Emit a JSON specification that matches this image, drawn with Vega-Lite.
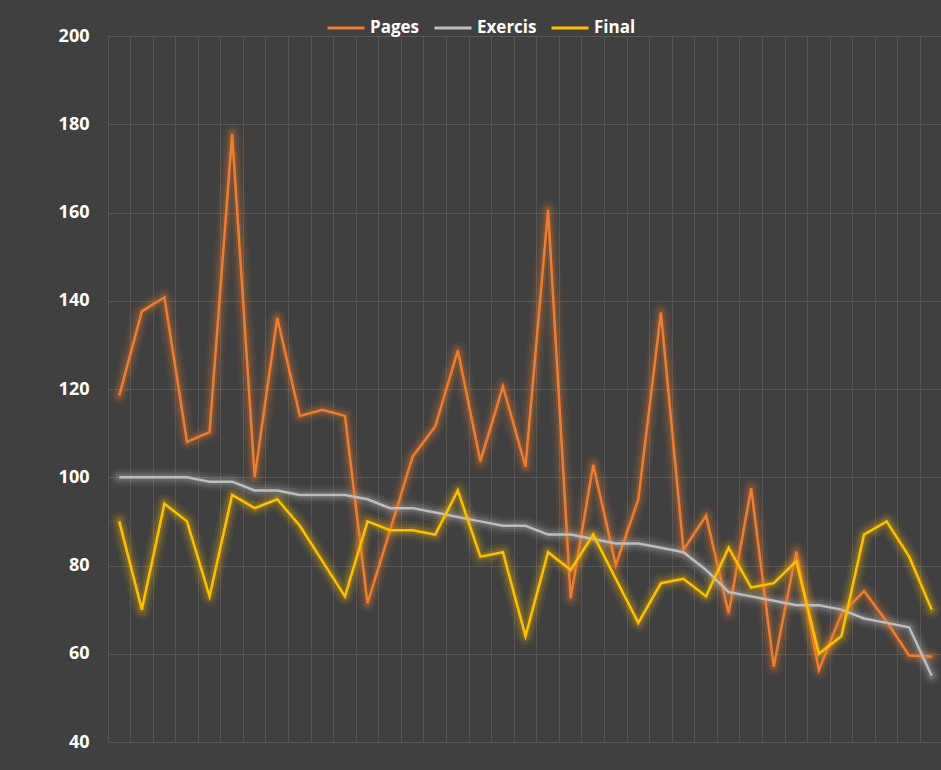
{
  "$schema": "https://vega.github.io/schema/vega-lite/v6.json",
  "width": 835,
  "height": 706,
  "autosize": {"type": "none"},
  "padding": {"left": 108, "top": 36, "right": 0, "bottom": 28},
  "background": "#404040",
  "config": {"view": {"stroke": null}, "font": "Open Sans"},
  "data": {
    "values": [
      {"point": 1, "series": "Pages", "value": 118.5},
      {"point": 2, "series": "Pages", "value": 137.6},
      {"point": 3, "series": "Pages", "value": 140.8},
      {"point": 4, "series": "Pages", "value": 108},
      {"point": 5, "series": "Pages", "value": 110.2},
      {"point": 6, "series": "Pages", "value": 177.8},
      {"point": 7, "series": "Pages", "value": 100},
      {"point": 8, "series": "Pages", "value": 136.1},
      {"point": 9, "series": "Pages", "value": 113.9},
      {"point": 10, "series": "Pages", "value": 115.3},
      {"point": 11, "series": "Pages", "value": 113.9},
      {"point": 12, "series": "Pages", "value": 71.4},
      {"point": 13, "series": "Pages", "value": 88},
      {"point": 14, "series": "Pages", "value": 104.7},
      {"point": 15, "series": "Pages", "value": 111.5},
      {"point": 16, "series": "Pages", "value": 128.7},
      {"point": 17, "series": "Pages", "value": 103.6},
      {"point": 18, "series": "Pages", "value": 120.6},
      {"point": 19, "series": "Pages", "value": 102.4},
      {"point": 20, "series": "Pages", "value": 160.6},
      {"point": 21, "series": "Pages", "value": 72.6},
      {"point": 22, "series": "Pages", "value": 102.8},
      {"point": 23, "series": "Pages", "value": 80.1},
      {"point": 24, "series": "Pages", "value": 95},
      {"point": 25, "series": "Pages", "value": 137.3},
      {"point": 26, "series": "Pages", "value": 83.5},
      {"point": 27, "series": "Pages", "value": 91.3},
      {"point": 28, "series": "Pages", "value": 69.2},
      {"point": 29, "series": "Pages", "value": 97.5},
      {"point": 30, "series": "Pages", "value": 57.1},
      {"point": 31, "series": "Pages", "value": 83.2},
      {"point": 32, "series": "Pages", "value": 56.3},
      {"point": 33, "series": "Pages", "value": 69},
      {"point": 34, "series": "Pages", "value": 74.2},
      {"point": 35, "series": "Pages", "value": 67.3},
      {"point": 36, "series": "Pages", "value": 59.6},
      {"point": 37, "series": "Pages", "value": 59.4},
      {"point": 1, "series": "Exercis", "value": 100},
      {"point": 2, "series": "Exercis", "value": 100},
      {"point": 3, "series": "Exercis", "value": 100},
      {"point": 4, "series": "Exercis", "value": 100},
      {"point": 5, "series": "Exercis", "value": 99},
      {"point": 6, "series": "Exercis", "value": 99},
      {"point": 7, "series": "Exercis", "value": 97},
      {"point": 8, "series": "Exercis", "value": 97},
      {"point": 9, "series": "Exercis", "value": 96},
      {"point": 10, "series": "Exercis", "value": 96},
      {"point": 11, "series": "Exercis", "value": 96},
      {"point": 12, "series": "Exercis", "value": 95},
      {"point": 13, "series": "Exercis", "value": 93},
      {"point": 14, "series": "Exercis", "value": 93},
      {"point": 15, "series": "Exercis", "value": 92},
      {"point": 16, "series": "Exercis", "value": 91},
      {"point": 17, "series": "Exercis", "value": 90},
      {"point": 18, "series": "Exercis", "value": 89},
      {"point": 19, "series": "Exercis", "value": 89},
      {"point": 20, "series": "Exercis", "value": 87},
      {"point": 21, "series": "Exercis", "value": 87},
      {"point": 22, "series": "Exercis", "value": 86},
      {"point": 23, "series": "Exercis", "value": 85},
      {"point": 24, "series": "Exercis", "value": 85},
      {"point": 25, "series": "Exercis", "value": 84},
      {"point": 26, "series": "Exercis", "value": 83},
      {"point": 27, "series": "Exercis", "value": 79},
      {"point": 28, "series": "Exercis", "value": 74},
      {"point": 29, "series": "Exercis", "value": 73},
      {"point": 30, "series": "Exercis", "value": 72},
      {"point": 31, "series": "Exercis", "value": 71},
      {"point": 32, "series": "Exercis", "value": 71},
      {"point": 33, "series": "Exercis", "value": 70},
      {"point": 34, "series": "Exercis", "value": 68},
      {"point": 35, "series": "Exercis", "value": 67},
      {"point": 36, "series": "Exercis", "value": 66},
      {"point": 37, "series": "Exercis", "value": 55},
      {"point": 1, "series": "Final", "value": 90},
      {"point": 2, "series": "Final", "value": 70},
      {"point": 3, "series": "Final", "value": 94},
      {"point": 4, "series": "Final", "value": 90},
      {"point": 5, "series": "Final", "value": 73},
      {"point": 6, "series": "Final", "value": 96},
      {"point": 7, "series": "Final", "value": 93},
      {"point": 8, "series": "Final", "value": 95},
      {"point": 9, "series": "Final", "value": 89},
      {"point": 10, "series": "Final", "value": 81},
      {"point": 11, "series": "Final", "value": 73},
      {"point": 12, "series": "Final", "value": 90},
      {"point": 13, "series": "Final", "value": 88},
      {"point": 14, "series": "Final", "value": 88},
      {"point": 15, "series": "Final", "value": 87},
      {"point": 16, "series": "Final", "value": 97},
      {"point": 17, "series": "Final", "value": 82},
      {"point": 18, "series": "Final", "value": 83},
      {"point": 19, "series": "Final", "value": 64},
      {"point": 20, "series": "Final", "value": 83},
      {"point": 21, "series": "Final", "value": 79},
      {"point": 22, "series": "Final", "value": 87},
      {"point": 23, "series": "Final", "value": 77},
      {"point": 24, "series": "Final", "value": 67},
      {"point": 25, "series": "Final", "value": 76},
      {"point": 26, "series": "Final", "value": 77},
      {"point": 27, "series": "Final", "value": 73},
      {"point": 28, "series": "Final", "value": 84},
      {"point": 29, "series": "Final", "value": 75},
      {"point": 30, "series": "Final", "value": 76},
      {"point": 31, "series": "Final", "value": 81},
      {"point": 32, "series": "Final", "value": 60},
      {"point": 33, "series": "Final", "value": 64},
      {"point": 34, "series": "Final", "value": 87},
      {"point": 35, "series": "Final", "value": 90},
      {"point": 36, "series": "Final", "value": 82},
      {"point": 37, "series": "Final", "value": 70}
    ]
  },
  "encoding": {
    "x": {
      "field": "point",
      "type": "ordinal",
      "bandPosition": 0.5,
      "scale": {"type": "band", "paddingInner": 0, "paddingOuter": 0},
      "axis": {
        "title": null,
        "labels": false,
        "ticks": false,
        "domain": false,
        "grid": true,
        "gridColor": "#565656",
        "gridWidth": 1,
        "bandPosition": 0
      }
    },
    "y": {
      "field": "value",
      "type": "quantitative",
      "scale": {"domain": [40, 200], "nice": false, "zero": false},
      "axis": {
        "title": null,
        "values": [40, 60, 80, 100, 120, 140, 160, 180, 200],
        "domain": false,
        "ticks": false,
        "tickSize": 0,
        "labelPadding": 19,
        "labelFont": "Open Sans",
        "labelFontWeight": "bold",
        "labelFontSize": 18,
        "labelColor": "#ffffff",
        "grid": true,
        "gridColor": "#585858",
        "gridWidth": 1
      }
    },
    "color": {
      "field": "series",
      "type": "nominal",
      "sort": ["Pages", "Exercis", "Final"],
      "scale": {
        "domain": ["Pages", "Exercis", "Final"],
        "range": ["#ED7D31", "#BDBDBD", "#FFC000"]
      },
      "legend": {
        "title": null,
        "orient": "none",
        "legendX": 218,
        "legendY": -28,
        "direction": "horizontal",
        "symbolType": "stroke",
        "symbolSize": 1369,
        "symbolStrokeWidth": 3,
        "symbolOpacity": 1,
        "labelColor": "#ffffff",
        "labelFont": "Open Sans",
        "labelFontWeight": "bold",
        "labelFontSize": 17,
        "labelOffset": 4,
        "columnPadding": 8
      }
    }
  },
  "layer": [
    {"mark": {"type": "line", "strokeWidth": 18, "opacity": 0.07, "strokeJoin": "round", "strokeCap": "round"}},
    {"mark": {"type": "line", "strokeWidth": 12, "opacity": 0.11, "strokeJoin": "round", "strokeCap": "round"}},
    {"mark": {"type": "line", "strokeWidth": 7, "opacity": 0.17, "strokeJoin": "round", "strokeCap": "round"}},
    {"mark": {"type": "line", "strokeWidth": 2.5, "strokeJoin": "miter"}}
  ]
}
